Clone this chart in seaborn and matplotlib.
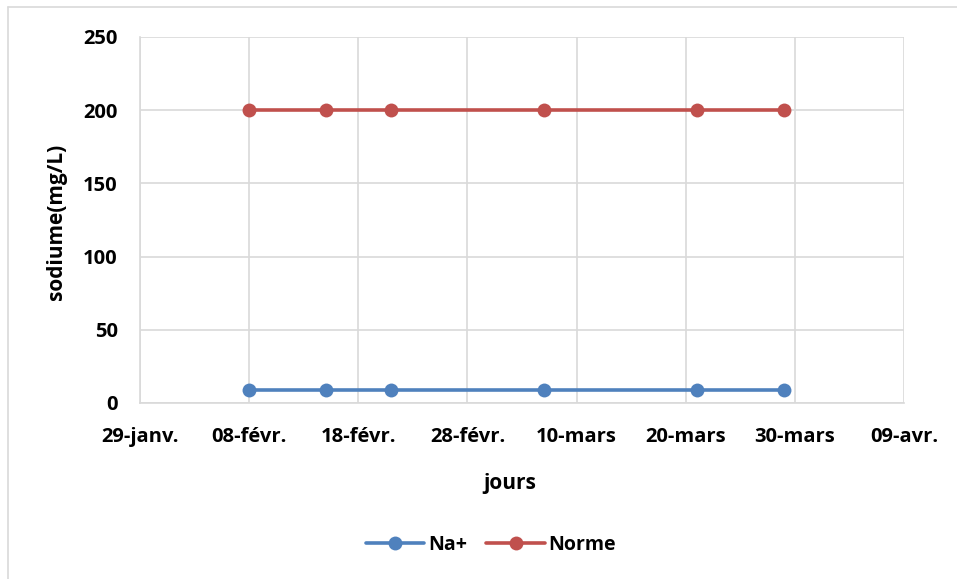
import matplotlib
matplotlib.use("Agg")
import matplotlib.pyplot as plt
import matplotlib.dates as mdates
from matplotlib.lines import Line2D
import seaborn as sns
import pandas as pd
import numpy as np

# Sampling days and measured values
dates = ["2023-02-08", "2023-02-15", "2023-02-21", "2023-03-07", "2023-03-21", "2023-03-29"]
na_values = [9, 9, 9, 9, 9, 9]
norme_values = [200, 200, 200, 200, 200, 200]
series_names = ["Na+", "Norme"]
colors = ["#4f81bd", "#c0504d"]
tick_dates = ["2023-01-29", "2023-02-08", "2023-02-18", "2023-02-28",
              "2023-03-10", "2023-03-20", "2023-03-30", "2023-04-09"]
tick_labels = ["29-janv.", "08-févr.", "18-févr.", "28-févr.",
               "10-mars", "20-mars", "30-mars", "09-avr."]
y_ticks = [0, 50, 100, 150, 200, 250]

df = pd.DataFrame({
    "date": pd.to_datetime(dates * 2),
    "valeur": na_values + norme_values,
    "serie": [series_names[0]] * len(dates) + [series_names[1]] * len(dates),
})

sns.set_theme(style="white")
plt.rcParams["font.family"] = ["Open Sans", "DejaVu Sans"]
plt.rcParams["font.weight"] = "bold"
plt.rcParams["text.color"] = "black"

fig = plt.figure(figsize=(9.57, 5.79), dpi=100)
ax = fig.add_axes([140 / 957, 1 - 403 / 579, (904 - 140) / 957, (403 - 37) / 579])

sns.lineplot(data=df, x="date", y="valeur", hue="serie", palette=colors,
             marker="o", markersize=10, markeredgewidth=0, linewidth=2.6,
             ax=ax, legend=False, zorder=3)

tk = pd.to_datetime(tick_dates)
ax.set_xlim(mdates.date2num(tk[0]), mdates.date2num(tk[-1]))
ax.set_xticks(mdates.date2num(tk))
ax.set_xticklabels(tick_labels)
ax.set_ylim(0, 250)
ax.set_yticks(y_ticks)
ax.grid(True, color="#d9d9d9", linewidth=1.2)
ax.set_axisbelow(True)
for side, sp in ax.spines.items():
    sp.set_visible(side in ("left", "bottom"))
    sp.set_color("#d9d9d9")
    sp.set_linewidth(1.2)
ax.tick_params(axis="both", length=0, labelsize=14.5, colors="black")
ax.tick_params(axis="x", pad=17)
ax.tick_params(axis="y", pad=16)
for lab in ax.get_xticklabels() + ax.get_yticklabels():
    lab.set_fontweight("bold")
ax.set_xlabel("")
ax.set_ylabel("")

fig.text(510 / 957, 1 - 483 / 579, "jours", ha="center", va="center",
         fontsize=15, fontweight="bold")
fig.text(57 / 957, 1 - 222 / 579, "sodiume(mg/L)", ha="center", va="center",
         rotation=90, fontsize=15, fontweight="bold")

handles = [Line2D([], [], color=c, marker="o", markersize=10, markeredgewidth=0,
                  linewidth=2.6) for c in colors]
fig.legend(handles, series_names, loc="center", bbox_to_anchor=(491 / 957, 1 - 545 / 579),
           ncol=2, frameon=False, prop={"weight": "bold", "size": 14},
           handlelength=3, columnspacing=1.0, handletextpad=0.2)

# Outer frame edges
fig.add_artist(Line2D([8 / 957, 8 / 957], [0, 1 - 7 / 579], transform=fig.transFigure,
                      color="#d9d9d9", linewidth=1.2))
fig.add_artist(Line2D([8 / 957, 1], [1 - 7 / 579, 1 - 7 / 579], transform=fig.transFigure,
                      color="#d9d9d9", linewidth=1.2))

fig.savefig("out.png", dpi=100, facecolor="white")
